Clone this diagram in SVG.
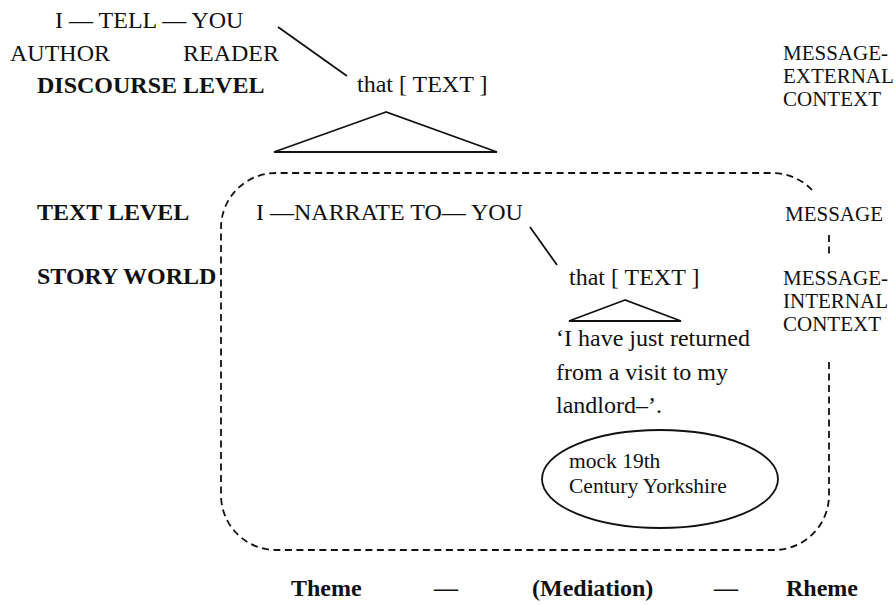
<svg xmlns="http://www.w3.org/2000/svg" width="895" height="605" viewBox="0 0 895 605">
<style>
  text { font-family: "Liberation Serif", "Times New Roman", serif; fill: #111; }
  .t { font-size: 24px; }
  .b { font-size: 24px; font-weight: bold; }
  .r { font-size: 21px; }
  .e { font-size: 21.5px; }
  .ln { stroke: #111; stroke-width: 1.8; fill: none; }
  .dash { stroke: #111; stroke-width: 1.8; fill: none; stroke-dasharray: 7 4.5; }
</style>
<rect width="895" height="605" fill="#fff"/>
<g id="discourse">
  <text class="t" x="55" y="28">I — TELL — YOU</text>
  <text class="t" x="10" y="61">AUTHOR</text>
  <text class="t" x="183" y="61">READER</text>
  <text class="b" x="37" y="93">DISCOURSE LEVEL</text>
</g>
<g id="text-top">
  <text class="t" x="357" y="92">that [ TEXT ]</text>
  <polygon class="ln" points="386,112 274,152 497,152"/>
</g>
<g id="context-labels">
  <text class="r" x="783" y="60">MESSAGE-</text>
  <text class="r" x="783" y="83">EXTERNAL</text>
  <text class="r" x="783" y="106">CONTEXT</text>
  <text class="r" x="785" y="221">MESSAGE</text>
  <text class="r" x="783" y="285">MESSAGE-</text>
  <text class="r" x="783" y="308">INTERNAL</text>
  <text class="r" x="783" y="331">CONTEXT</text>
</g>
<g id="levels">
  <text class="b" x="37" y="220">TEXT LEVEL</text>
  <text class="b" x="37" y="284">STORY WORLD</text>
</g>
<g id="narrate">
  <text class="t" x="256" y="220">I —NARRATE TO— YOU</text>
</g>
<g id="text-inner">
  <text class="t" x="569" y="285">that [ TEXT ]</text>
  <polygon class="ln" points="625,300 569,321 681,321"/>
</g>
<g id="quote">
  <text class="t" x="556" y="346">‘I have just returned</text>
  <text class="t" x="556" y="380">from a visit to my</text>
  <text class="t" x="556" y="413">landlord–’.</text>
</g>
<g id="setting">
  <ellipse class="ln" cx="660" cy="479" rx="118" ry="49"/>
  <text class="e" x="569" y="468">mock 19th</text>
  <text class="e" x="569" y="493">Century Yorkshire</text>
</g>
<g id="connectors">
  <line class="ln" x1="278" y1="27" x2="347" y2="76"/>
  <line class="ln" x1="530" y1="227" x2="557" y2="265"/>
  <path class="dash" d="M 812 190 A 55 55 0 0 0 774 173 L 276 173 A 55 55 0 0 0 221 228 L 221 495 A 55 55 0 0 0 276 550 L 774 550 A 55 55 0 0 0 829 495 L 829 358"/>
  <line class="dash" x1="829" y1="235" x2="829" y2="257"/>
</g>
<g id="theme-rheme">
  <text class="b" x="291" y="596">Theme</text>
  <text class="b" x="434" y="596">—</text>
  <text class="b" x="532" y="596">(Mediation)</text>
  <text class="b" x="714" y="596">—</text>
  <text class="b" x="786" y="596">Rheme</text>
</g>
</svg>
